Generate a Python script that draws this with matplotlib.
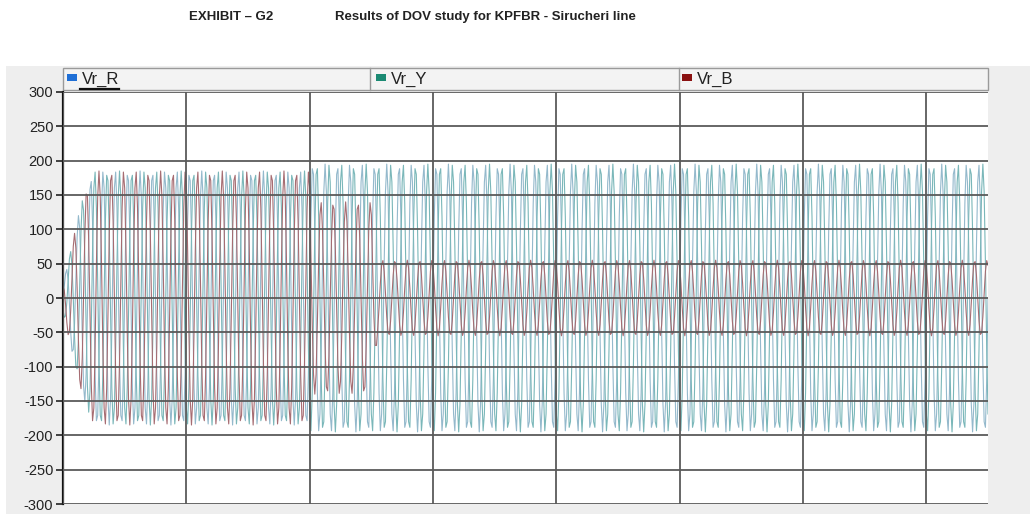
import numpy as np
import matplotlib.pyplot as plt
from matplotlib.patches import Rectangle

plt.rcParams['font.family'] = ['Liberation Sans', 'DejaVu Sans']
plt.rcParams['axes.unicode_minus'] = False

# envelope breakpoints (time in s, peak value)
t_ry = [0.0, 0.01, 0.03, 0.05, 0.40, 0.401, 1.5]
amp_r = [20.0, 60.0, 140.0, 185.0, 185.0, 195.0, 195.0]
amp_y = [20.0, 60.0, 140.0, 185.0, 185.0, 195.0, 195.0]
t_b = [0.0, 0.01, 0.03, 0.05, 0.40, 0.405, 0.50, 0.51, 1.5]
amp_b = [20.0, 60.0, 140.0, 185.0, 185.0, 140.0, 140.0, 55.0, 55.0]

freq = 50.0          # Hz
fs = 480.0           # samples per second of the recorded trace
phase_deg = [0.0, -120.0, 120.0]
legend_names = ['Vr_R', 'Vr_Y', 'Vr_B']
legend_cols = ['#1f6fd6', '#1b8a73', '#8a1111']
trace_cols = ['#94b9cc', '#7ab7b9', '#a66c72']

t = np.arange(0.0, 1.5 + 1e-9, 1.0 / fs)
envs = [np.interp(t, t_ry, amp_r),
        np.interp(t, t_ry, amp_y),
        np.interp(t, t_b, amp_b)]

W, H = 1030, 514
fig = plt.figure(figsize=(W / 100, H / 100), dpi=100)
fig.patch.set_facecolor('white')

# gray panel behind the chart
fig.patches.append(Rectangle((6 / W, 0), 1 - 6 / W, (H - 66) / H,
                             transform=fig.transFigure, facecolor='#eeeeee',
                             edgecolor='none', zorder=-5))

x0, x1, ytop, ybot = 63, 988, 92, 504
ax = fig.add_axes([x0 / W, (H - ybot) / H, (x1 - x0) / W, (ybot - ytop) / H])
ax.set_zorder(2)
ax.set_facecolor('white')

for env, ph, tc in zip(envs, phase_deg, trace_cols):
    v = env * np.sin(2 * np.pi * freq * t + np.deg2rad(ph))
    ax.plot(t, v, color=tc, lw=0.8, zorder=1)

ax.set_xlim(0, 1.5)
ax.set_ylim(-300, 300)
ax.set_yticks(np.arange(-300, 301, 50))
ax.set_xticks(np.arange(0, 1.5, 0.2))
ax.set_xticklabels([])
ax.tick_params(axis='x', length=0)
ax.tick_params(axis='y', length=5, width=1.2, labelsize=10.5, pad=2,
               colors='#222222')
ax.grid(True, color='#5a5a5a', lw=1.3)
ax.set_axisbelow(False)
for s in ['top', 'right', 'bottom']:
    ax.spines[s].set_visible(False)
ax.spines['left'].set_linewidth(1.6)
ax.spines['left'].set_color('#111111')

# legend header bar
hb_top, hb_bot = 68, 90
fig.patches.append(Rectangle((x0 / W, (H - hb_bot) / H), (x1 - x0) / W,
                             (hb_bot - hb_top) / H, transform=fig.transFigure,
                             facecolor='#f3f3f3', edgecolor='#9a9a9a', lw=1.0,
                             zorder=1))
for sx in [370, 679]:
    fig.add_artist(plt.Line2D([sx / W, sx / W], [(H - hb_bot) / H, (H - hb_top) / H],
                              color='#9a9a9a', lw=1.0))
leg_x = [67, 376, 682]
for lx, name, lc in zip(leg_x, legend_names, legend_cols):
    fig.patches.append(Rectangle((lx / W, (H - 81) / H), 10 / W, 7 / H,
                                 transform=fig.transFigure, facecolor=lc,
                                 edgecolor='none', zorder=2))
    fig.text((lx + 15) / W, (H - 79) / H, name, fontsize=12, color='#222222',
             va='center', ha='left')
fig.add_artist(plt.Line2D([80 / W, 119 / W], [(H - 89) / H, (H - 89) / H],
                          color='#111111', lw=1.6))

# titles
fig.text(189 / W, (H - 17) / H, 'EXHIBIT – G2', fontsize=9.5, fontweight='bold',
         va='center', color='#222222')
fig.text(335 / W, (H - 17) / H, 'Results of DOV study for KPFBR - Sirucheri line',
         fontsize=9.5, fontweight='bold', va='center', color='#222222')

fig.savefig('out.png', dpi=100)
